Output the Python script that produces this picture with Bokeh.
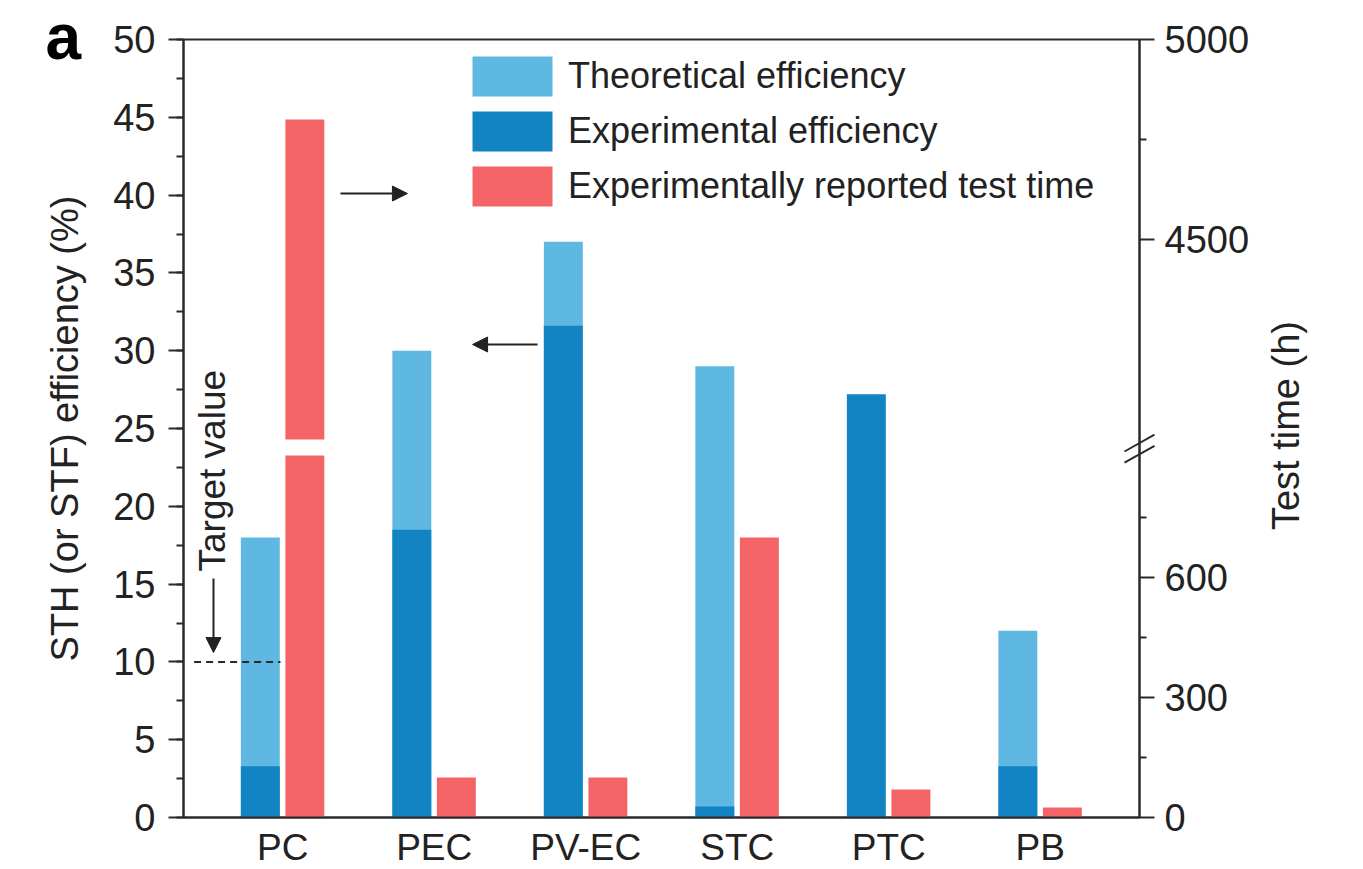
import math
from bokeh.plotting import figure
from bokeh.models import (FactorRange, Range1d, LinearAxis, FixedTicker, SingleIntervalTicker,
                          Legend, LegendItem, Arrow, NormalHead, Label, ColumnDataSource)
from bokeh.transform import dodge
from bokeh.embed import file_html
from bokeh.resources import INLINE

# ---------------- data ----------------
categories = ["PC", "PEC", "PV-EC", "STC", "PTC", "PB"]
theoretical_eff = [18.0, 30.0, 37.0, 29.0, float("nan"), 12.0]   # STH/STF %
experimental_eff = [3.3, 18.5, 31.6, 0.7, 27.2, 3.3]             # STH/STF %
test_time_h = [4800, 100, 100, 700, 70, 25]                      # hours
target_value = 10
time_ticks = [0, 300, 600, 4500, 5000]
time_minor_ticks = [150, 450, 750, 4750]

# broken right axis: hours between BREAK_LOW_H and BREAK_HIGH_H are cut out
BREAK_LOW_H = 905
BREAK_HIGH_H = 4000
SHIFT_H = 3055


def t2d(h):
    """hours -> coordinate on the broken right axis"""
    return h if h <= BREAK_LOW_H else h - SHIFT_H


FONT = "Liberation Sans"
LIGHT = "#5FB8E1"
DARK = "#1284C3"
RED = "#F46466"
INK = "#222222"
AXIS = "#2a2a2a"

p = figure(x_range=FactorRange(factors=categories, range_padding=0.155, range_padding_units="absolute"),
           y_range=Range1d(0, 50),
           frame_width=956, frame_height=778,
           min_border_left=183, min_border_right=215, min_border_top=39, min_border_bottom=47,
           output_backend="svg", toolbar_location=None)
p.xgrid.visible = False
p.ygrid.visible = False
p.outline_line_color = AXIS
p.outline_line_width = 2
p.background_fill_color = "white"

# left axis
lax = p.yaxis[0]
lax.ticker = SingleIntervalTicker(interval=5, num_minor_ticks=2)
lax.axis_label = "STH (or STF) efficiency (%)"
lax.axis_label_standoff = 24

# right axis (broken)
p.extra_y_ranges = {"time": Range1d(0, t2d(5000))}
rax = LinearAxis(y_range_name="time",
                 ticker=FixedTicker(ticks=[t2d(t) for t in time_ticks],
                                    minor_ticks=[t2d(t) for t in time_minor_ticks]),
                 major_label_overrides={t2d(t): str(t) for t in time_ticks})
p.add_layout(rax, "right")

for ax in (lax, rax):
    ax.axis_line_color = AXIS
    ax.axis_line_width = 2
    ax.major_tick_line_color = AXIS
    ax.major_tick_line_width = 2
    ax.minor_tick_line_color = AXIS
    ax.minor_tick_line_width = 2
    ax.major_tick_in = 0
    ax.major_tick_out = 15
    ax.minor_tick_in = 0
    ax.minor_tick_out = 7
    ax.major_label_text_font = FONT
    ax.major_label_text_font_size = "38px"
    ax.major_label_text_color = INK
    ax.axis_label_text_font = FONT
    ax.axis_label_text_font_size = "38px"
    ax.axis_label_text_font_style = "normal"
    ax.axis_label_text_color = INK
lax.major_label_standoff = 13
rax.major_label_standoff = 10

# right axis title, reading bottom-to-top, in the right side panel
p.add_layout(Label(x=7.119, y=25.19, text="Test time (h)", angle=math.pi / 2,
                   text_align="center", text_baseline="middle",
                   text_font=FONT, text_font_size="38px", text_color=INK), "right")

xax = p.xaxis[0]
xax.axis_line_color = AXIS
xax.axis_line_width = 2
xax.major_tick_line_color = None
xax.minor_tick_line_color = None
xax.major_label_text_font = FONT
xax.major_label_text_font_size = "37px"
xax.major_label_text_color = INK
xax.major_label_standoff = 3

# ---------------- bars ----------------
BW = 0.257
eff_src = ColumnDataSource(dict(cat=categories, theo=theoretical_eff, exp=experimental_eff))
r_theo = p.vbar(x=dodge("cat", -0.148, range=p.x_range), top="theo", width=BW, source=eff_src,
                fill_color=LIGHT, line_color=None)
r_exp = p.vbar(x=dodge("cat", -0.148, range=p.x_range), top="exp", width=BW, source=eff_src,
               fill_color=DARK, line_color=None)

red_src = ColumnDataSource(dict(cat=categories,
                                top=[t2d(min(h, BREAK_LOW_H)) for h in test_time_h]))
r_red = p.vbar(x=dodge("cat", 0.146, range=p.x_range), top="top", width=BW, source=red_src,
               y_range_name="time", fill_color=RED, line_color=None)

up_cat = [c for c, h in zip(categories, test_time_h) if h > BREAK_HIGH_H]
up_top = [t2d(h) for h in test_time_h if h > BREAK_HIGH_H]
red_up_src = ColumnDataSource(dict(cat=up_cat, top=up_top, bottom=[t2d(BREAK_HIGH_H)] * len(up_cat)))
p.vbar(x=dodge("cat", 0.146, range=p.x_range), top="top", bottom="bottom", width=BW,
       source=red_up_src, y_range_name="time", fill_color=RED, line_color=None)

# ---------------- annotations ----------------
# target value dashed line
p.segment(x0=[-0.085], y0=[target_value], x1=[0.485], y1=[target_value],
          line_color=AXIS, line_width=2, line_dash="7 5")
p.add_layout(Arrow(end=NormalHead(size=15, fill_color=INK, line_color=INK),
                   x_start=0.043, y_start=15.36, x_end=0.043, y_end=10.6,
                   line_color=INK, line_width=2))
p.add_layout(Label(x=0.036, y=15.81, text="Target value", angle=math.pi / 2,
                   text_align="left", text_baseline="alphabetic",
                   text_font=FONT, text_font_size="37px", text_color=INK))

# arrows pointing to the axes
p.add_layout(Arrow(end=NormalHead(size=15, fill_color=INK, line_color=INK),
                   x_start=0.881, y_start=40.1, x_end=1.323, y_end=40.1,
                   line_color=INK, line_width=2))
p.add_layout(Arrow(end=NormalHead(size=15, fill_color=INK, line_color=INK),
                   x_start=2.182, y_start=30.4, x_end=1.753, y_end=30.4,
                   line_color=INK, line_width=2))

# panel letter (placed in a side panel so it is not clipped to the frame)
p.add_layout(Label(x=-1.066, y=50.13, text="a", text_align="left", text_baseline="alphabetic",
                   text_font=FONT, text_font_size="64px", text_font_style="bold",
                   text_color="black"), "left")

# axis break marks on the right axis
xr = 6.155
p.segment(x0=[xr - 0.099, xr - 0.099], y0=[908 - 21, 936 - 21],
          x1=[xr + 0.099, xr + 0.099], y1=[908 + 21, 936 + 21],
          y_range_name="time", line_color=AXIS, line_width=2, level="overlay")

# ---------------- legend ----------------
legend = Legend(items=[LegendItem(label="Theoretical efficiency", renderers=[r_theo]),
                       LegendItem(label="Experimental efficiency", renderers=[r_exp]),
                       LegendItem(label="Experimentally reported test time", renderers=[r_red])],
                location=(279, 606), orientation="vertical",
                glyph_width=100, glyph_height=50, spacing=5, label_standoff=6,
                padding=0, margin=0, border_line_color=None, background_fill_alpha=0,
                label_text_font=FONT, label_text_font_size="36px", label_text_color=INK)
p.add_layout(legend)

open("out.html", "w").write(file_html(p, INLINE))
